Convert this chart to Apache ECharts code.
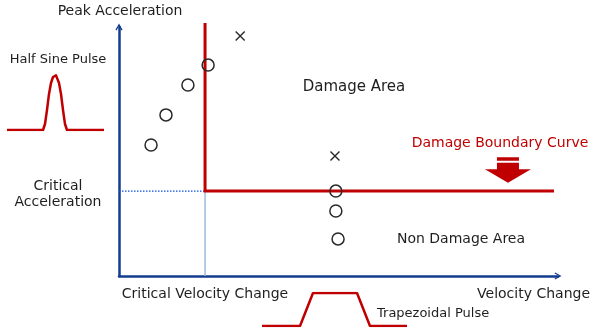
<!DOCTYPE html>
<html>
<head>
<meta charset="utf-8">
<script src="https://cdn.jsdelivr.net/npm/echarts@6/dist/echarts.min.js"></script>
<style>html,body{margin:0;padding:0;background:#fff;}#c{width:600px;height:336px;}</style>
</head>
<body>
<div id="c"></div>
<script>
// ---- data (chart units: x = velocity change 0..100, y = peak acceleration 0..100) ----
const criticalVelocity = 19.6;
const criticalAccel = 34.1;
const boundaryX = [19.6, 19.6, 99.1];
const boundaryY = [101.6, 34.1, 34.1];
const circlesX = [7.3, 10.7, 15.7, 20.3, 49.4, 49.4, 49.9];
const circlesY = [52.6, 64.7, 76.7, 84.7, 34.1, 26.1, 14.9];
const crossesX = [27.6, 49.2];
const crossesY = [96.4, 48.2];
const arrowPos = [88.6, 42.6];
// half sine pulse inset (time, amplitude)
const sineT = [0, 36, 38, 40, 42, 44, 46, 47, 48, 49, 50, 52, 54, 56, 58, 60, 97];
const sineA = [0, 0, 6, 20, 36, 47, 53, 54.6, 55, 54.6, 53, 47, 36, 20, 6, 0, 0];
// trapezoidal pulse inset (time, amplitude)
const trapT = [0, 38, 51, 95, 108, 145];
const trapA = [0, 0, 33, 33, 0, 0];

const zip = (a, b) => a.map((v, i) => [v, b[i]]);
const FONT = '"DejaVu Sans", Verdana, sans-serif';
const TXT = '#1e1e1e';
const RED = '#c00000';
const BLUE = '#123c8e';

const chart = echarts.init(document.getElementById('c'), null, {renderer: 'canvas'});
const hidden = {show: false};
const chevron = 'path://M0,9 L5,0 L10,9 L8.4,9.9 L5,3.4 L1.6,9.9 Z';

const texts = [
  ['Peak Acceleration', 120, 11, 'center', 14, TXT],
  ['Half Sine Pulse', 58, 60, 'center', 13, TXT],
  ['Critical', 58, 186, 'center', 14, TXT],
  ['Acceleration', 58, 202, 'center', 14, TXT],
  ['Damage Area', 354, 87, 'center', 15, TXT],
  ['Damage Boundary Curve', 500, 143, 'center', 14, RED],
  ['Non Damage Area', 461, 239, 'center', 14, TXT],
  ['Critical Velocity Change', 205, 294, 'center', 14, TXT],
  ['Velocity Change', 590, 294, 'right', 14, TXT],
  ['Trapezoidal Pulse', 377, 314, 'left', 13, TXT]
];

chart.setOption({
  animation: false,
  backgroundColor: '#fff',
  grid: [
    {left: 119, right: 42, top: 27, bottom: 60},
    {left: 7, width: 97, top: 75, height: 55},
    {left: 262, width: 145, top: 293, height: 33}
  ],
  xAxis: [
    {gridIndex: 0, type: 'value', min: 0, max: 100,
     axisLine: {show: true, onZero: false, symbol: ['none', chevron], symbolSize: [9, 7],
       lineStyle: {color: BLUE, width: 2.5}},
     axisTick: hidden, axisLabel: hidden, splitLine: hidden},
    {gridIndex: 1, type: 'value', min: 0, max: 97, show: false},
    {gridIndex: 2, type: 'value', min: 0, max: 145, show: false}
  ],
  yAxis: [
    {gridIndex: 0, type: 'value', min: 0, max: 100,
     axisLine: {show: true, onZero: false, symbol: ['none', chevron], symbolSize: [9, 7],
       lineStyle: {color: BLUE, width: 2.5}},
     axisTick: hidden, axisLabel: hidden, splitLine: hidden},
    {gridIndex: 1, type: 'value', min: 0, max: 55, show: false},
    {gridIndex: 2, type: 'value', min: 0, max: 33, show: false}
  ],
  graphic: texts.map(t => ({
    type: 'text', x: t[1], y: t[2], silent: true,
    style: {text: t[0], fill: t[5], font: t[4] + 'px ' + FONT, align: t[3], verticalAlign: 'middle'}
  })),
  series: [
    {type: 'line', xAxisIndex: 0, yAxisIndex: 0, symbol: 'none', silent: true,
     data: [[0, criticalAccel], [criticalVelocity, criticalAccel]],
     lineStyle: {color: '#0a4fe0', width: 1.2, type: [1.5, 1.5], opacity: 1}},
    {type: 'line', xAxisIndex: 0, yAxisIndex: 0, symbol: 'none', silent: true,
     data: [[criticalVelocity, 0], [criticalVelocity, criticalAccel]],
     lineStyle: {color: '#9dbbd9', width: 1.5}},
    {type: 'line', xAxisIndex: 0, yAxisIndex: 0, symbol: 'none', silent: true, clip: false,
     data: zip(boundaryX, boundaryY),
     lineStyle: {color: RED, width: 3, join: 'miter'}},
    {type: 'scatter', xAxisIndex: 0, yAxisIndex: 0, symbol: 'circle', symbolSize: 12, silent: true, z: 5,
     data: zip(circlesX, circlesY),
     itemStyle: {color: 'rgba(0,0,0,0)', borderColor: '#2a2a2a', borderWidth: 1.5, opacity: 1}},
    {type: 'scatter', xAxisIndex: 0, yAxisIndex: 0, symbol: 'path://M0,0 L10,10 M10,0 L0,10', symbolSize: 9, silent: true,
     data: zip(crossesX, crossesY),
     itemStyle: {color: 'none', borderColor: '#2a2a2a', borderWidth: 1.4, opacity: 1}},
    {type: 'scatter', xAxisIndex: 0, yAxisIndex: 0, silent: true,
     symbol: 'path://M12,0 L34,0 L34,3.5 L12,3.5 Z M12,5.5 L34,5.5 L34,12 L46,12 L23,25.5 L0,12 L12,12 Z',
     symbolSize: [46, 25.5], data: [arrowPos], itemStyle: {color: RED, opacity: 1}},
    {type: 'line', xAxisIndex: 1, yAxisIndex: 1, symbol: 'none', silent: true,
     data: zip(sineT, sineA), lineStyle: {color: RED, width: 2.5, join: 'round'}},
    {type: 'line', xAxisIndex: 2, yAxisIndex: 2, symbol: 'none', silent: true,
     data: zip(trapT, trapA), lineStyle: {color: RED, width: 2.5}}
  ]
});
</script>
</body>
</html>
